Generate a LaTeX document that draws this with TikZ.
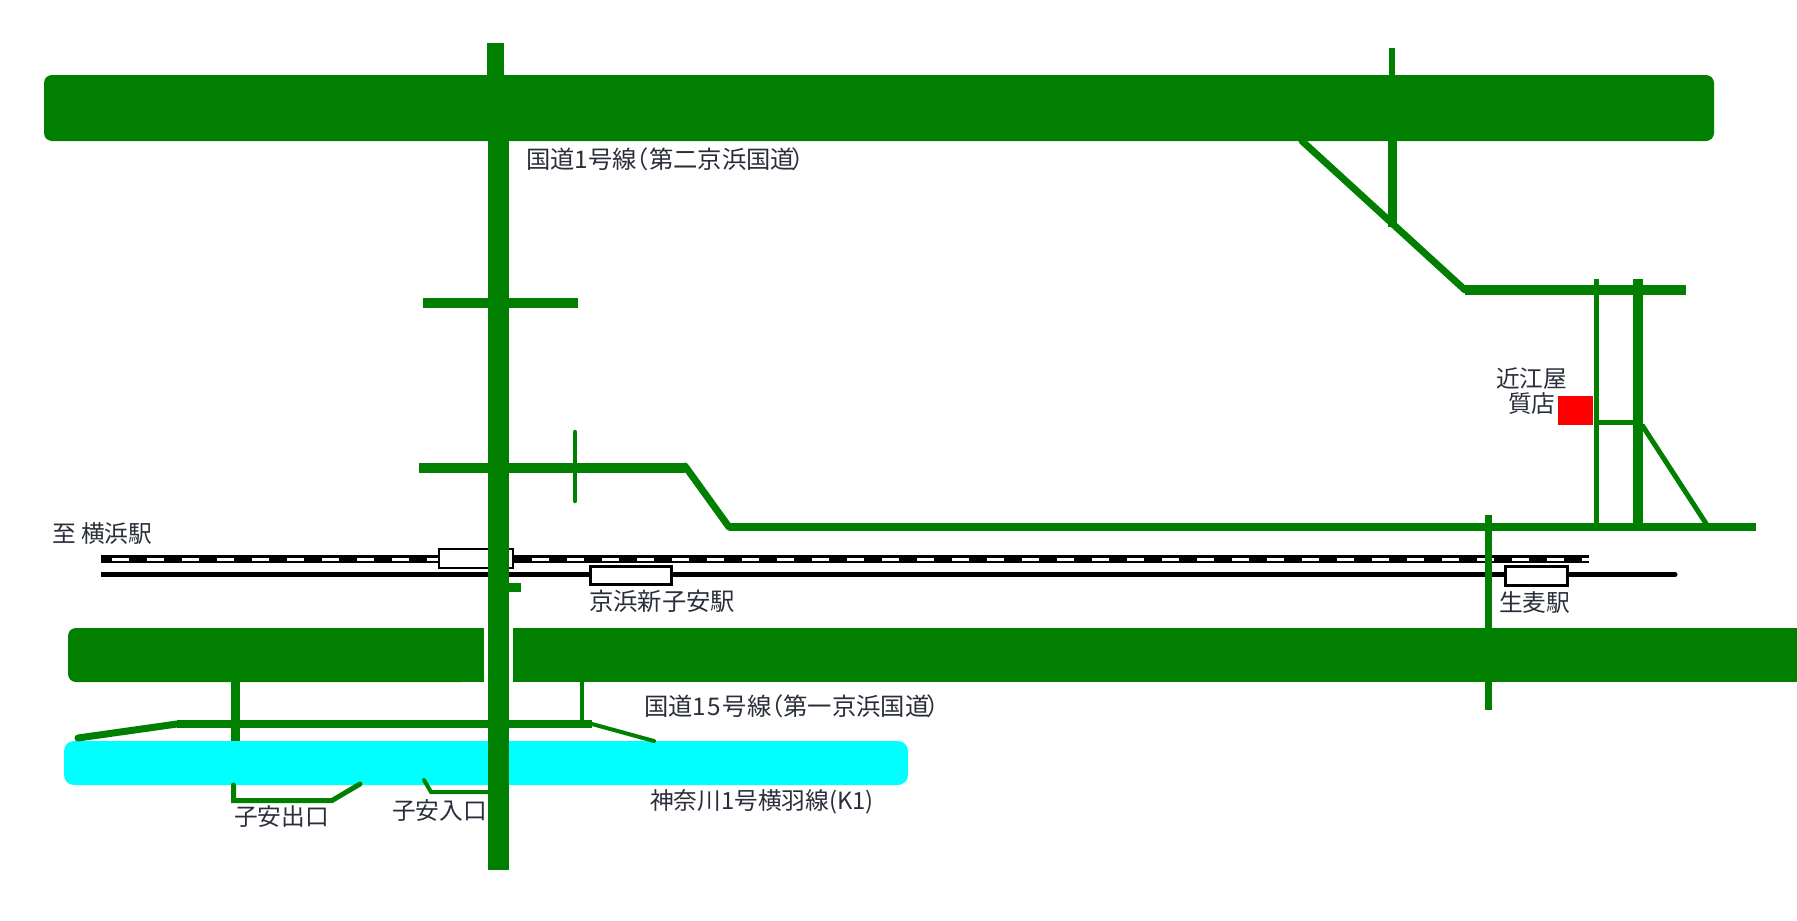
\documentclass[tikz,border=0pt]{standalone}
\usepackage{fontspec}
\setmainfont{Noto Sans CJK JP}
\definecolor{roadgreen}{HTML}{007F00}
\definecolor{labelgray}{HTML}{2A2E3A}
\definecolor{aqua}{HTML}{00FFFF}
\tikzset{
  road/.style={draw=roadgreen,line width=#1},
  block/.style={fill=roadgreen,rounded corners=8pt},
  station/.style={draw=black,fill=white,line width=#1},
  lbl/.style={anchor=west,inner sep=0pt,text=labelgray,font=\fontsize{23.7}{26}\selectfont},
  widelbl/.style={lbl,font=\fontsize{24.3}{26}\selectfont}
}

\begin{document}
\begin{tikzpicture}[x=1pt,y=-1pt]
\useasboundingbox (0,0) rectangle (1797,921);
% expressways
\fill[block] (44,75) rectangle (1714,141);
\fill[block] (68,628) rectangle (470,682);
\fill[roadgreen] (440,628) rectangle (484,682);
\fill[roadgreen] (513,628) rectangle (1797,682);
\fill[aqua,rounded corners=10pt] (64,741) rectangle (908,785);
% railway
\draw[black,line width=8pt] (101,559) -- (1589,559);
\draw[white,line width=3pt,dash pattern=on 17pt off 18pt] (112,559) -- (1589,559);
\fill[black] (101,572) rectangle (1675,577);
\fill[black] (1675,574.5) circle (2.5pt);
\draw[station=2pt] (439,549) rectangle (513,568);
\draw[station=3pt] (590,566) rectangle (671,584);
\draw[station=3pt] (1505,566) rectangle (1567,585);
% side roads along route 15
\draw[road=7pt,line cap=round] (78,738) -- (177,724);
\draw[road=8pt] (177,724) -- (592,724);
\draw[road=4pt,line cap=round] (592,724) -- (654,741);
\draw[road=9pt] (235.5,682) -- (235.5,741);
\draw[road=4pt] (582,682) -- (582,724);
\draw[road=5pt,line cap=round] (233.5,785) -- (233.5,800.5) -- (332,800.5) -- (360,784);
\draw[road=4pt,line cap=round] (424,780) -- (431,792) -- (488,792);
% upper left roads
\draw[road=10pt] (423,303) -- (578,303);
\draw[road=10pt] (419,468) -- (685,468);
\draw[road=7pt,line cap=round] (685,466) -- (729,527);
\draw[road=4.5pt,line cap=round] (575,432) -- (575,501);
\draw[road=8pt] (729,527) -- (1756,527);
% upper right roads
\draw[road=7pt,line cap=round] (1302,141) -- (1465,290);
\draw[road=6pt] (1392,48) -- (1392,141);
\draw[road=9pt] (1392.5,141) -- (1392.5,227);
\draw[road=10pt] (1465,290) -- (1686,290);
\draw[road=5pt] (1596,279) -- (1596,527);
\draw[road=10pt] (1638,279) -- (1638,527);
\draw[road=5pt] (1596,422) -- (1638,422);
\draw[road=5pt] (1642,425) -- (1707,525);
\fill[red] (1558,396) rectangle (1593,425);
\draw[road=7pt] (1488,515) -- (1488,710);
% main north-south road
\fill[roadgreen] (509,583) rectangle (521,592);
\fill[roadgreen] (487,43) rectangle (504,141);
\fill[roadgreen] (488,141) rectangle (509,870);
% labels
\node[widelbl] (route1) at (526,159) {国道1号線\kern-12pt（第二京浜国道\kern-3pt）};
\node[widelbl] (route15) at (644,706) {国道1\kern1.5pt5\kern1.5pt号線\kern-12pt（第一京浜国道\kern-3pt）};
\node[lbl] (k1) at (650,802) {神奈川1号横羽線(K1)};
\node[lbl] (yokohama) at (52,534) {至 横浜駅};
\node[widelbl] (shinkoyasu) at (589,601) {京浜新子安駅};
\node[lbl] (namamugi) at (1499,603) {生麦駅};
\node[lbl] (koyasuout) at (234,817) {子安出口};
\node[lbl] (koyasuin) at (392,811) {子安入口};
\node[lbl] (omiya) at (1496,379) {近江屋};
\node[lbl] (shichiten) at (1508,404) {質店};
\end{tikzpicture}
\end{document}
